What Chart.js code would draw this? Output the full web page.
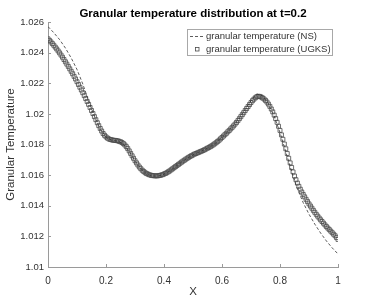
<!DOCTYPE html>
<html>
<head>
<meta charset="utf-8">
<script src="https://cdn.jsdelivr.net/npm/chart.js@4"></script>
<style>
  html, body { margin: 0; padding: 0; background: #fff; }
  #wrap { width: 374px; height: 301px; }
</style>
</head>
<body>
<div id="wrap"><canvas id="c" width="374" height="301"></canvas></div>
<script>
const chartTitle = 'Granular temperature distribution at t=0.2';
const xTitle = 'X';
const yTitle = 'Granular Temperature';
const seriesNames = ['granular temperature (NS)', 'granular temperature (UGKS)'];

const xTicks = [0, 0.2, 0.4, 0.6, 0.8, 1];
const xTickLabels = ['0', '0.2', '0.4', '0.6', '0.8', '1'];
const yTicks = [1.01, 1.012, 1.014, 1.016, 1.018, 1.02, 1.022, 1.024, 1.026];
const yTickLabels = ['1.01', '1.012', '1.014', '1.016', '1.018', '1.02', '1.022', '1.024', '1.026'];

// NS solution (dashed line)
const nsX = [0, 0.02, 0.04, 0.06, 0.08, 0.1, 0.12, 0.14, 0.16, 0.18,
  0.2, 0.22, 0.24, 0.26, 0.28, 0.3, 0.32, 0.34, 0.36, 0.38,
  0.4, 0.42, 0.44, 0.46, 0.48, 0.5, 0.52, 0.54, 0.56, 0.58,
  0.6, 0.62, 0.64, 0.66, 0.68, 0.7, 0.72, 0.74, 0.76, 0.78,
  0.8, 0.82, 0.84, 0.86, 0.88, 0.9, 0.92, 0.94, 0.96, 0.98, 1];
const nsT = [1.02570, 1.02530, 1.02485, 1.02430, 1.02365, 1.02290, 1.02195, 1.02085, 1.01985, 1.01900,
  1.01848, 1.01828, 1.01822, 1.01804, 1.01756, 1.01692, 1.01640, 1.01608, 1.01594, 1.01594,
  1.01606, 1.01628, 1.01656, 1.01684, 1.01710, 1.01732, 1.01750, 1.01766, 1.01786, 1.01812,
  1.01846, 1.01884, 1.01924, 1.01972, 1.02028, 1.02086, 1.02130, 1.02118, 1.02066, 1.01984,
  1.01878, 1.01752, 1.01624, 1.01510, 1.01420, 1.01345, 1.01280, 1.01222, 1.01170, 1.01125, 1.01085];

// UGKS solution (square markers)
const ugksX = [0, 0.005, 0.01, 0.015, 0.02, 0.025, 0.03, 0.035, 0.04, 0.045,
  0.05, 0.055, 0.06, 0.065, 0.07, 0.075, 0.08, 0.085, 0.09, 0.095,
  0.1, 0.105, 0.11, 0.115, 0.12, 0.125, 0.13, 0.135, 0.14, 0.145,
  0.15, 0.155, 0.16, 0.165, 0.17, 0.175, 0.18, 0.185, 0.19, 0.195,
  0.2, 0.205, 0.21, 0.215, 0.22, 0.225, 0.23, 0.235, 0.24, 0.245,
  0.25, 0.255, 0.26, 0.265, 0.27, 0.275, 0.28, 0.285, 0.29, 0.295,
  0.3, 0.305, 0.31, 0.315, 0.32, 0.325, 0.33, 0.335, 0.34, 0.345,
  0.35, 0.355, 0.36, 0.365, 0.37, 0.375, 0.38, 0.385, 0.39, 0.395,
  0.4, 0.405, 0.41, 0.415, 0.42, 0.425, 0.43, 0.435, 0.44, 0.445,
  0.45, 0.455, 0.46, 0.465, 0.47, 0.475, 0.48, 0.485, 0.49, 0.495,
  0.5, 0.505, 0.51, 0.515, 0.52, 0.525, 0.53, 0.535, 0.54, 0.545,
  0.55, 0.555, 0.56, 0.565, 0.57, 0.575, 0.58, 0.585, 0.59, 0.595,
  0.6, 0.605, 0.61, 0.615, 0.62, 0.625, 0.63, 0.635, 0.64, 0.645,
  0.65, 0.655, 0.66, 0.665, 0.67, 0.675, 0.68, 0.685, 0.69, 0.695,
  0.7, 0.705, 0.71, 0.715, 0.72, 0.725, 0.73, 0.735, 0.74, 0.745,
  0.75, 0.755, 0.76, 0.765, 0.77, 0.775, 0.78, 0.785, 0.79, 0.795,
  0.8, 0.805, 0.81, 0.815, 0.82, 0.825, 0.83, 0.835, 0.84, 0.845,
  0.85, 0.855, 0.86, 0.865, 0.87, 0.875, 0.88, 0.885, 0.89, 0.895,
  0.9, 0.905, 0.91, 0.915, 0.92, 0.925, 0.93, 0.935, 0.94, 0.945,
  0.95, 0.955, 0.96, 0.965, 0.97, 0.975, 0.98, 0.985, 0.99, 0.995, 1];
const ugksT = [1.02490, 1.02480, 1.02470, 1.02459, 1.02448, 1.02436, 1.02424, 1.02411, 1.02398, 1.02384,
  1.02370, 1.02355, 1.02340, 1.02325, 1.02310, 1.02294, 1.02278, 1.02262, 1.02245, 1.02228,
  1.02210, 1.02192, 1.02174, 1.02156, 1.02138, 1.02119, 1.02100, 1.02081, 1.02062, 1.02042,
  1.02022, 1.02002, 1.01982, 1.01962, 1.01942, 1.01923, 1.01905, 1.01888, 1.01872, 1.01860,
  1.01850, 1.01842, 1.01836, 1.01833, 1.01830, 1.01828, 1.01827, 1.01826, 1.01824, 1.01821,
  1.01818, 1.01813, 1.01806, 1.01797, 1.01786, 1.01773, 1.01758, 1.01742, 1.01726, 1.01710,
  1.01694, 1.01680, 1.01666, 1.01653, 1.01642, 1.01632, 1.01624, 1.01616, 1.01610, 1.01606,
  1.01602, 1.01599, 1.01597, 1.01596, 1.01595, 1.01595, 1.01596, 1.01598, 1.01600, 1.01603,
  1.01607, 1.01611, 1.01616, 1.01622, 1.01628, 1.01635, 1.01642, 1.01649, 1.01656, 1.01663,
  1.01670, 1.01677, 1.01684, 1.01691, 1.01697, 1.01704, 1.01710, 1.01716, 1.01722, 1.01727,
  1.01732, 1.01737, 1.01741, 1.01745, 1.01749, 1.01753, 1.01757, 1.01761, 1.01766, 1.01771,
  1.01776, 1.01781, 1.01786, 1.01792, 1.01798, 1.01805, 1.01812, 1.01820, 1.01828, 1.01837,
  1.01846, 1.01855, 1.01864, 1.01873, 1.01883, 1.01892, 1.01902, 1.01912, 1.01922, 1.01933,
  1.01944, 1.01956, 1.01969, 1.01982, 1.01995, 1.02008, 1.02022, 1.02035, 1.02048, 1.02061,
  1.02074, 1.02086, 1.02096, 1.02105, 1.02112, 1.02115, 1.02114, 1.02110, 1.02104, 1.02097,
  1.02088, 1.02077, 1.02064, 1.02049, 1.02032, 1.02013, 1.01992, 1.01969, 1.01945, 1.01919,
  1.01892, 1.01863, 1.01834, 1.01803, 1.01772, 1.01741, 1.01710, 1.01680, 1.01650, 1.01621,
  1.01594, 1.01570, 1.01548, 1.01527, 1.01508, 1.01490, 1.01474, 1.01458, 1.01442, 1.01427,
  1.01412, 1.01398, 1.01384, 1.01370, 1.01357, 1.01344, 1.01332, 1.01320, 1.01308, 1.01297,
  1.01286, 1.01275, 1.01264, 1.01254, 1.01244, 1.01234, 1.01224, 1.01214, 1.01204, 1.01192, 1.01180];

const FONT = '"Liberation Sans", Arial, Helvetica, sans-serif';
const axisColor = '#9a9a9a';
const textColor = '#333333';
const lineColor = '#333333';
const markerColor = '#4a4a4a';

// inward ticks, title and the legend box (MATLAB look)
const matlabDecor = {
  id: 'matlabDecor',
  afterDraw(chart) {
    const { ctx, chartArea: a, scales: { x, y } } = chart;
    ctx.save();
    ctx.strokeStyle = axisColor;
    ctx.lineWidth = 1;
    ctx.beginPath();
    x.ticks.forEach(t => {
      const px = Math.round(x.getPixelForValue(t.value)) + 0.5;
      ctx.moveTo(px, a.bottom);
      ctx.lineTo(px, a.bottom - 3);
    });
    y.ticks.forEach(t => {
      const py = Math.round(y.getPixelForValue(t.value)) + 0.5;
      ctx.moveTo(a.left, py);
      ctx.lineTo(a.left + 3, py);
    });
    ctx.stroke();

    // title
    ctx.fillStyle = '#000';
    ctx.font = 'bold 11.5px ' + FONT;
    ctx.textAlign = 'center';
    ctx.textBaseline = 'middle';
    ctx.fillText(chartTitle, (a.left + a.right) / 2, 14);

    // legend
    const bx = 187.5, by = 29.5, bw = 145, bh = 26;
    ctx.fillStyle = '#fff';
    ctx.fillRect(bx, by, bw, bh);
    ctx.strokeStyle = '#a8a8a8';
    ctx.strokeRect(bx, by, bw, bh);

    const ns = chart.data.datasets[0];
    ctx.strokeStyle = ns.borderColor;
    ctx.lineWidth = ns.borderWidth;
    ctx.setLineDash(ns.borderDash);
    ctx.beginPath();
    ctx.moveTo(190, 36.5);
    ctx.lineTo(205, 36.5);
    ctx.stroke();
    ctx.setLineDash([]);

    const ug = chart.data.datasets[1];
    ctx.strokeStyle = ug.borderColor;
    ctx.lineWidth = ug.borderWidth;
    ctx.strokeRect(195.5, 47.5, 3.5, 3.5);

    ctx.fillStyle = textColor;
    ctx.font = '9.5px ' + FONT;
    ctx.textAlign = 'left';
    ctx.fillText(seriesNames[0], 206, 36.5);
    ctx.fillText(seriesNames[1], 206, 49);
    ctx.restore();
  }
};

new Chart(document.getElementById('c'), {
  type: 'scatter',
  data: {
    datasets: [
      {
        label: seriesNames[0],
        data: nsX.map((v, i) => ({ x: v, y: nsT[i] })),
        showLine: true,
        borderColor: lineColor,
        borderWidth: 0.8,
        borderDash: [3, 2],
        pointRadius: 0,
        tension: 0,
        fill: false
      },
      {
        label: seriesNames[1],
        data: ugksX.map((v, i) => ({ x: v, y: ugksT[i] })),
        showLine: false,
        pointStyle: 'rect',
        pointRadius: 2.8,
        borderColor: markerColor,
        backgroundColor: 'rgba(0,0,0,0)',
        borderWidth: 0.8
      }
    ]
  },
  options: {
    responsive: false,
    animation: false,
    layout: { padding: { left: 0, right: 36, top: 22, bottom: 0 } },
    plugins: {
      legend: { display: false },
      title: { display: false },
      tooltip: { enabled: false }
    },
    scales: {
      x: {
        type: 'linear',
        min: 0,
        max: 1,
        grid: { display: false, drawTicks: false },
        border: { display: true, color: axisColor, width: 1 },
        afterBuildTicks: s => { s.ticks = xTicks.map(v => ({ value: v })); },
        afterFit: s => { s.height = 34; },
        ticks: {
          color: textColor,
          font: { family: FONT, size: 10 },
          padding: 8,
          maxRotation: 0,
          callback: (v, i) => xTickLabels[i]
        },
        title: {
          display: true,
          text: xTitle,
          color: textColor,
          font: { family: FONT, size: 11.5 },
          padding: { top: 0, bottom: 2 }
        }
      },
      y: {
        type: 'linear',
        min: 1.01,
        max: 1.026,
        grid: { display: false, drawTicks: false },
        border: { display: true, color: axisColor, width: 1 },
        afterBuildTicks: s => { s.ticks = yTicks.map(v => ({ value: v })); },
        afterFit: s => { s.width = 48; },
        ticks: {
          color: textColor,
          font: { family: FONT, size: 9.5 },
          padding: 4,
          callback: (v, i) => yTickLabels[i]
        },
        title: {
          display: true,
          text: yTitle,
          color: textColor,
          font: { family: FONT, size: 11.5 },
          padding: { top: 4, bottom: 0 }
        }
      }
    }
  },
  plugins: [matlabDecor]
});
</script>
</body>
</html>
